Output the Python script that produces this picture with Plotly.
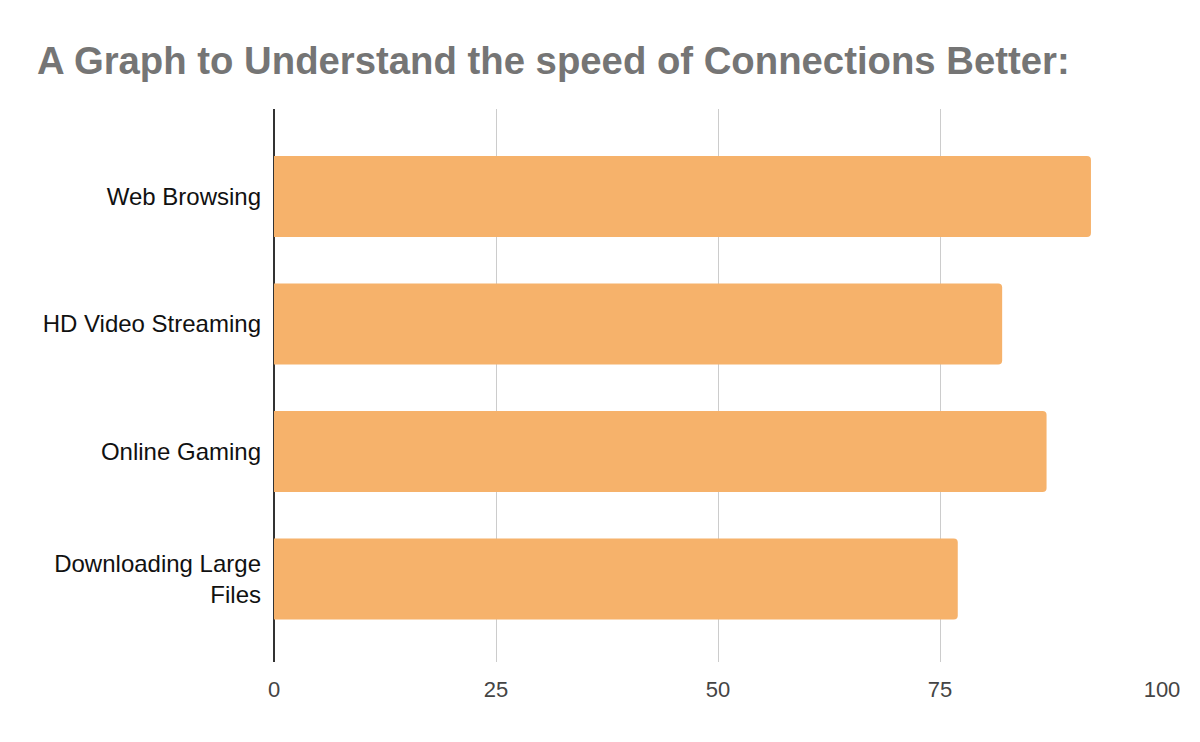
import plotly.graph_objects as go

categories = ["Web Browsing", "HD Video Streaming", "Online Gaming", "Downloading Large<br>Files"]
values = [92, 82, 87, 77]
x_ticks = [0, 25, 50, 75, 100]

FONT = "Liberation Sans, Arial, sans-serif"

fig = go.Figure()
fig.add_trace(go.Bar(
    x=values,
    y=categories,
    orientation="h",
    marker=dict(color="#f6b26b", line=dict(width=0), cornerradius=4),
    hoverinfo="x+y",
))

fig.update_layout(
    width=1200,
    height=742,
    paper_bgcolor="white",
    plot_bgcolor="white",
    margin=dict(l=274, r=38, t=109, b=80),
    bargap=0.365,
    showlegend=False,
    font=dict(family=FONT),
    title=dict(
        text="<b>A Graph to Understand the speed of Connections Better:</b>",
        font=dict(family=FONT, size=38.3, color="#757575"),
        xref="container", yref="container",
        x=37 / 1200, xanchor="left",
        y=1 - 61 / 742, yanchor="middle",
    ),
    xaxis=dict(
        range=[0, 100],
        tickvals=x_ticks,
        ticktext=[str(v) for v in x_ticks],
        showgrid=True,
        gridcolor="#cccccc",
        gridwidth=1,
        zeroline=True,
        zerolinecolor="#333333",
        zerolinewidth=2,
        showline=False,
        ticks="",
        ticklabelstandoff=12,
        tickfont=dict(family=FONT, size=22, color="#444444"),
    ),
    yaxis=dict(
        type="category",
        categoryorder="array",
        categoryarray=categories,
        range=[3.651, -0.686],
        showgrid=False,
        zeroline=False,
        showline=False,
        ticks="",
        ticklabelstandoff=12,
        tickfont=dict(family=FONT, size=24, color="#111111"),
    ),
)

fig.write_html("out.html")
